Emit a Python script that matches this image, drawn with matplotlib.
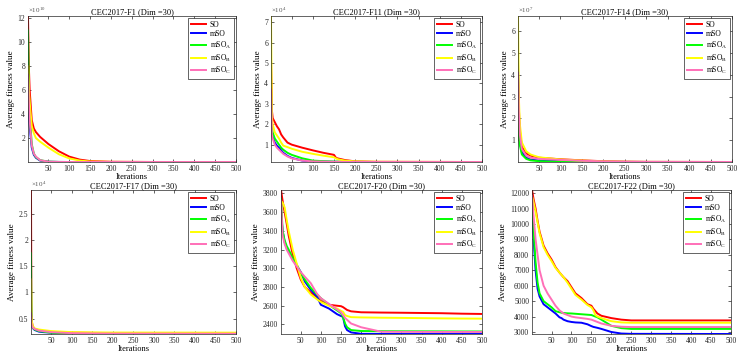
import numpy as np
import matplotlib
matplotlib.use("Agg")
import matplotlib.pyplot as plt
from matplotlib.ticker import FixedLocator, FuncFormatter

plt.rcParams['font.family'] = ['Liberation Serif', 'DejaVu Serif']
plt.rcParams['mathtext.fontset'] = 'custom'
plt.rcParams['mathtext.rm'] = 'Liberation Serif'
plt.rcParams['mathtext.it'] = 'Liberation Serif:italic'

labels = ['SO', 'mSO', r'mSO$_\mathrm{A}$', r'mSO$_\mathrm{B}$', r'mSO$_\mathrm{C}$']
colors = ['#ff0000', '#0000ff', '#00ff00', '#ffff00', '#ff6fb8']

# ---- CEC2017-F1 (x 1e10) ----
f1_exp = 10
f1_it = [1, 3, 5, 10, 15, 20, 30, 50, 75, 100, 125, 150, 200, 300, 500]
f1_so = [12.2, 8.0, 6.0, 3.5, 2.8, 2.5, 2.1, 1.5, 0.9, 0.45, 0.2, 0.08, 0.02, 0.003, 0.00002]
f1_mso = [6.0, 4.2, 3.0, 1.2, 0.6, 0.35, 0.12, 0.02, 0.005, 0.001, 0.0005, 0.0002, 0.0001, 0.00005, 0.00001]
f1_a = [11.0, 6.0, 4.0, 1.5, 0.7, 0.4, 0.15, 0.03, 0.006, 0.001, 0.0005, 0.0002, 0.0001, 0.00005, 0.00001]
f1_b = [8.0, 6.0, 5.0, 3.0, 2.4, 2.0, 1.7, 1.2, 0.65, 0.3, 0.12, 0.04, 0.01, 0.002, 0.00002]
f1_c = [7.3, 5.0, 3.5, 1.4, 0.7, 0.45, 0.15, 0.03, 0.006, 0.001, 0.0005, 0.0002, 0.0001, 0.00005, 0.00001]
f1_ticks = [2, 4, 6, 8, 10, 12]

# ---- CEC2017-F11 (x 1e4) ----
f11_exp = 4
f11_it = [1, 3, 5, 10, 15, 20, 25, 30, 40, 50, 75, 100, 125, 150, 155, 160, 175, 200, 250, 500]
f11_so = [5.2, 2.7, 2.3, 2.1, 1.9, 1.75, 1.5, 1.35, 1.1, 1.0, 0.85, 0.72, 0.6, 0.5, 0.35, 0.32, 0.25, 0.18, 0.16, 0.15]
f11_mso = [2.5, 1.6, 1.4, 1.1, 0.95, 0.85, 0.72, 0.6, 0.45, 0.35, 0.22, 0.18, 0.17, 0.16, 0.16, 0.16, 0.155, 0.155, 0.15, 0.15]
f11_a = [3.7, 1.9, 1.6, 1.3, 1.15, 1.0, 0.85, 0.75, 0.6, 0.5, 0.33, 0.22, 0.19, 0.17, 0.17, 0.17, 0.16, 0.155, 0.15, 0.15]
f11_b = [7.3, 2.4, 2.0, 1.6, 1.45, 1.3, 1.1, 0.95, 0.88, 0.8, 0.65, 0.55, 0.46, 0.38, 0.32, 0.28, 0.22, 0.18, 0.16, 0.15]
f11_c = [3.7, 1.5, 1.3, 1.0, 0.85, 0.75, 0.65, 0.55, 0.42, 0.33, 0.22, 0.18, 0.17, 0.16, 0.16, 0.16, 0.155, 0.155, 0.15, 0.15]
f11_ticks = [1, 2, 3, 4, 5, 6, 7]

# ---- CEC2017-F14 (x 1e7) ----
f14_exp = 7
f14_it = [1, 3, 5, 10, 20, 30, 50, 100, 150, 200, 250, 300, 500]
f14_so = [4.0, 2.5, 1.5, 0.7, 0.4, 0.3, 0.2, 0.13, 0.08, 0.04, 0.02, 0.01, 0.005]
f14_mso = [4.6, 2.0, 1.0, 0.45, 0.2, 0.12, 0.07, 0.04, 0.02, 0.01, 0.008, 0.006, 0.005]
f14_a = [2.0, 1.2, 0.8, 0.35, 0.15, 0.08, 0.04, 0.02, 0.01, 0.008, 0.006, 0.005, 0.004]
f14_b = [6.7, 3.0, 1.8, 0.9, 0.5, 0.35, 0.22, 0.12, 0.07, 0.03, 0.015, 0.01, 0.005]
f14_c = [4.1, 2.2, 1.3, 0.6, 0.3, 0.2, 0.15, 0.1, 0.06, 0.03, 0.015, 0.01, 0.005]
f14_ticks = [1, 2, 3, 4, 5, 6]

# ---- CEC2017-F17 (x 1e4) ----
f17_exp = 4
f17_it = [1, 2, 3, 5, 10, 20, 30, 50, 100, 150, 200, 500]
f17_so = [2.96, 0.6, 0.45, 0.35, 0.3, 0.27, 0.26, 0.245, 0.23, 0.225, 0.222, 0.22]
f17_mso = [0.85, 0.45, 0.38, 0.32, 0.28, 0.25, 0.24, 0.23, 0.21, 0.207, 0.205, 0.204]
f17_a = [1.75, 0.5, 0.4, 0.33, 0.29, 0.26, 0.25, 0.23, 0.215, 0.212, 0.21, 0.21]
f17_b = [1.25, 0.55, 0.45, 0.36, 0.31, 0.29, 0.28, 0.26, 0.24, 0.235, 0.232, 0.23]
f17_c = [0.6, 0.4, 0.36, 0.33, 0.3, 0.27, 0.26, 0.24, 0.22, 0.215, 0.212, 0.21]
f17_ticks = [0.5, 1, 1.5, 2, 2.5]

# ---- CEC2017-F20 ----
f20_it = [1, 5, 10, 15, 20, 30, 40, 50, 60, 75, 90, 100, 120, 140, 150, 155, 160, 165, 175, 200, 250, 300, 400, 450, 500]
f20_so = [3836, 3720, 3600, 3480, 3350, 3150, 3000, 2880, 2800, 2740, 2690, 2650, 2610, 2600, 2595, 2585, 2570, 2555, 2540, 2530, 2527, 2525, 2520, 2515, 2512]
f20_mso = [3600, 3400, 3280, 3220, 3180, 3100, 3030, 2960, 2860, 2770, 2700, 2610, 2570, 2510, 2490, 2480, 2380, 2340, 2315, 2300, 2299, 2298, 2298, 2298, 2298]
f20_a = [3740, 3400, 3300, 3240, 3200, 3110, 3040, 2950, 2880, 2790, 2720, 2680, 2610, 2550, 2520, 2480, 2410, 2370, 2340, 2330, 2328, 2327, 2326, 2325, 2325]
f20_b = [3720, 3700, 3650, 3520, 3400, 3200, 3050, 2900, 2800, 2720, 2670, 2640, 2600, 2570, 2545, 2535, 2500, 2490, 2478, 2475, 2472, 2470, 2465, 2463, 2462]
f20_c = [3720, 3350, 3260, 3200, 3160, 3080, 3020, 2960, 2910, 2840, 2730, 2680, 2620, 2560, 2530, 2500, 2470, 2450, 2410, 2370, 2322, 2321, 2320, 2320, 2320]
f20_ticks = [2400, 2600, 2800, 3000, 3200, 3400, 3600, 3800]

# ---- CEC2017-F22 ----
f22_it = [1, 5, 10, 15, 20, 30, 40, 50, 60, 70, 75, 80, 90, 100, 110, 125, 140, 150, 155, 160, 165, 175, 200, 225, 250, 500]
f22_so = [12200, 11600, 11000, 10200, 9500, 8600, 8100, 7700, 7200, 6850, 6700, 6550, 6300, 5900, 5500, 5200, 4800, 4700, 4500, 4350, 4200, 4050, 3900, 3800, 3750, 3750]
f22_mso = [11800, 9000, 7000, 5800, 5300, 4800, 4600, 4400, 4200, 3950, 3900, 3800, 3700, 3650, 3620, 3600, 3500, 3380, 3330, 3300, 3270, 3200, 3000, 2900, 2880, 2870]
f22_a = [11600, 9500, 7500, 6200, 5500, 5000, 4800, 4600, 4350, 4280, 4250, 4230, 4210, 4200, 4180, 4150, 4120, 4100, 4050, 4000, 3950, 3800, 3400, 3250, 3200, 3200]
f22_b = [11800, 11400, 10800, 10100, 9400, 8500, 8000, 7600, 7150, 6850, 6700, 6550, 6200, 5800, 5400, 5100, 4750, 4600, 4400, 4100, 4000, 3900, 3700, 3620, 3600, 3600]
f22_c = [11800, 10500, 9000, 8000, 7000, 6000, 5500, 5100, 4700, 4400, 4300, 4200, 4100, 4000, 3950, 3900, 3850, 3800, 3750, 3700, 3650, 3550, 3400, 3340, 3320, 3320]
f22_ticks = [3000, 4000, 5000, 6000, 7000, 8000, 9000, 10000, 11000, 12000]

x_ticks = [50, 100, 150, 200, 250, 300, 350, 400, 450, 500]

panels = [
    ('CEC2017-F1 (Dim =30)', f1_it, [f1_so, f1_mso, f1_a, f1_b, f1_c], f1_exp, f1_ticks),
    ('CEC2017-F11 (Dim =30)', f11_it, [f11_so, f11_mso, f11_a, f11_b, f11_c], f11_exp, f11_ticks),
    ('CEC2017-F14 (Dim =30)', f14_it, [f14_so, f14_mso, f14_a, f14_b, f14_c], f14_exp, f14_ticks),
    ('CEC2017-F17 (Dim =30)', f17_it, [f17_so, f17_mso, f17_a, f17_b, f17_c], f17_exp, f17_ticks),
    ('CEC2017-F20 (Dim =30)', f20_it, [f20_so, f20_mso, f20_a, f20_b, f20_c], None, f20_ticks),
    ('CEC2017-F22 (Dim =30)', f22_it, [f22_so, f22_mso, f22_a, f22_b, f22_c], None, f22_ticks),
]

# axes boxes in pixels: left, right, top, bottom
W, H = 744, 360
boxes = [(28, 236, 16, 162), (271, 482, 16, 162), (518, 732, 16, 162),
         (31, 236, 190, 334), (281, 482, 190, 334), (532, 731, 190, 334)]

fig = plt.figure(figsize=(W / 100, H / 100), dpi=100)
dark = '#262626'

for (title, its, series, exp, yt), (l, r, t, b) in zip(panels, boxes):
    ax = fig.add_axes([l / W, 1 - b / H, (r - l) / W, (b - t) / H])
    for vals, lab, col in zip(series, labels, colors):
        ax.plot(its, vals, color=col, lw=1.4, label=lab)
    allv = np.concatenate([np.array(v, dtype=float) for v in series])
    ax.set_xlim(1, 500)
    ax.set_ylim(allv.min(), allv.max())
    ax.xaxis.set_major_locator(FixedLocator(x_ticks))
    ax.yaxis.set_major_locator(FixedLocator(yt))
    ax.yaxis.set_major_formatter(FuncFormatter(lambda v, p: f'{v:g}'))
    if exp is not None:
        ax.text(0.0, 1.005, r'$\times10^{%d}$' % exp, transform=ax.transAxes,
                fontsize=5, color='#555555', ha='left', va='bottom')
    ax.tick_params(direction='in', top=True, right=True, labelsize=5.5,
                   length=2.5, width=0.5, colors=dark, pad=2)
    for s in ax.spines.values():
        s.set_linewidth(0.5)
        s.set_color(dark)
    ax.set_title(title, fontsize=6, pad=1)
    ax.set_xlabel('Iterations', fontsize=6, labelpad=0)
    ax.set_ylabel('Average fitness value', fontsize=6.5, labelpad=2)
    leg = ax.legend(loc='upper right', fontsize=5.5, handlelength=2.0,
                    borderaxespad=0.3, labelspacing=0.2, fancybox=False,
                    borderpad=0.3, handletextpad=0.5, framealpha=1)
    leg.get_frame().set_linewidth(0.5)
    leg.get_frame().set_edgecolor(dark)

fig.savefig('out.png', dpi=100)
